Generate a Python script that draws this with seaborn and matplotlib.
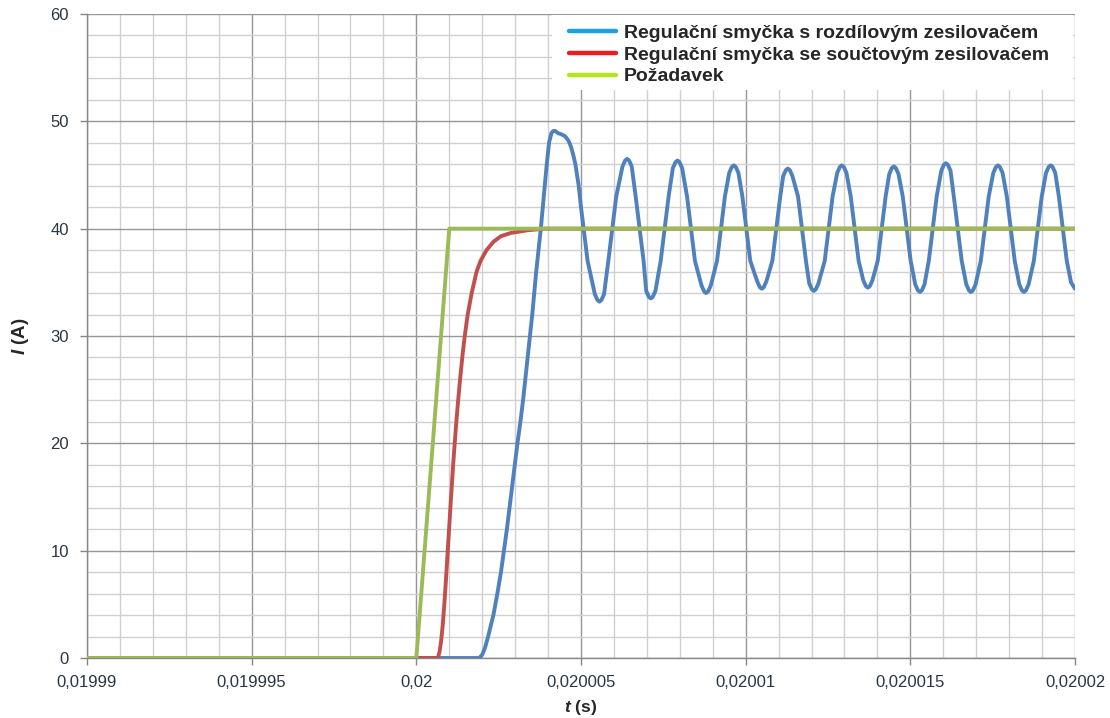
import numpy as np
import pandas as pd
import seaborn as sns
import matplotlib.pyplot as plt
from matplotlib.lines import Line2D
from matplotlib.patches import Rectangle
from matplotlib.ticker import MultipleLocator, FuncFormatter

# ============================================
# DATA (time in microseconds after 0.02 s, current in A)
# ============================================

T0 = 0.02

green_us = [-10, 0.0, 1.0, 20.0]
green_i = [0, 0, 40, 40]

red_us = [-10, 0.65, 0.70, 0.75, 0.80, 0.85, 0.90, 0.95, 1.00, 1.04, 1.08,
          1.12, 1.165, 1.215, 1.27, 1.33, 1.395, 1.47, 1.56, 1.68, 1.83,
          1.95, 2.13, 2.35, 2.57, 2.87, 3.37, 3.90, 20.0]
red_i = [0, 0, 0.5, 1.5, 3.0, 5.0, 7.3, 9.8, 12.3, 14.3, 16.2,
         18.1, 20, 22, 24, 26, 28, 30, 32, 34, 36,
         37, 38, 38.8, 39.3, 39.6, 39.85, 40, 40]

blue_us = [-10, 1.91, 2.00, 2.08, 2.18, 2.34, 2.46, 2.57, 2.66, 2.75, 2.83,
           2.91, 2.99, 3.07, 3.16, 3.24, 3.31, 3.38, 3.45, 3.52, 3.58, 3.64,
           3.71, 3.78, 3.84, 3.90, 3.96, 4.03, 4.10, 4.16, 4.22, 4.30, 4.40,
           4.52, 4.62, 4.70, 4.77, 4.83, 4.93, 5.00, 5.08, 5.20, 5.42, 5.50,
           5.56,
           5.62, 5.70, 5.83, 5.95, 6.07, 6.26, 6.34, 6.40,
           6.46, 6.54, 6.66, 6.78, 6.90, 6.98, 7.06, 7.12,
           7.18, 7.26, 7.42, 7.54, 7.66, 7.79, 7.87, 7.93,
           7.99, 8.07, 8.22, 8.34, 8.46, 8.66, 8.74, 8.80,
           8.86, 8.94, 9.13, 9.25, 9.37, 9.50, 9.58, 9.64,
           9.70, 9.78, 9.90, 10.02, 10.14, 10.35, 10.43, 10.49,
           10.55, 10.63, 10.81, 10.93, 11.05, 11.14, 11.22, 11.28,
           11.34, 11.42, 11.59, 11.71, 11.83, 11.93, 12.01, 12.07,
           12.13, 12.21, 12.40, 12.52, 12.64, 12.78, 12.86, 12.92,
           12.98, 13.06, 13.19, 13.31, 13.43, 13.57, 13.65, 13.71,
           13.77, 13.85, 14.01, 14.13, 14.25, 14.36, 14.44, 14.50,
           14.56, 14.64, 14.77, 14.89, 15.01, 15.15, 15.23, 15.29,
           15.35, 15.43, 15.56, 15.68, 15.80, 15.94, 16.02, 16.08,
           16.14, 16.22, 16.32, 16.44, 16.56, 16.70, 16.78, 16.84,
           16.90, 16.98, 17.14, 17.26, 17.38, 17.52, 17.60, 17.66,
           17.72, 17.80, 17.93, 18.05, 18.17, 18.31, 18.39, 18.45,
           18.51, 18.59, 18.75, 18.87, 18.99, 19.12, 19.20, 19.26,
           19.32, 19.40, 19.51, 19.63, 19.75, 19.88, 20.0]
blue_i = [0, 0, 0.3, 0.9, 2, 4, 6, 8, 10, 12, 14,
          16, 18, 20, 22, 24, 26, 28, 30, 32, 34, 36,
          38, 40, 42, 44, 46, 48, 48.9, 49.1, 49.1, 48.9, 48.8,
          48.6, 48.2, 47.6, 46.8, 46, 44, 42, 40, 37.0, 33.9, 33.35,
          33.2,
          33.35, 33.9, 37.0, 40, 43.0, 45.8, 46.35, 46.5,
          46.35, 45.8, 43.0, 40, 37.0, 34.2, 33.65, 33.5,
          33.65, 34.2, 37.0, 40, 43.0, 45.65, 46.2, 46.35,
          46.2, 45.65, 43.0, 40, 37.0, 34.7, 34.15, 34.0,
          34.15, 34.7, 37.0, 40, 43.0, 45.2, 45.75, 45.9,
          45.75, 45.2, 43.0, 40, 37.0, 35.1, 34.55, 34.4,
          34.55, 35.1, 37.0, 40, 43.0, 44.9, 45.45, 45.6,
          45.45, 44.9, 43.0, 40, 37.0, 34.9, 34.35, 34.2,
          34.35, 34.9, 37.0, 40, 43.0, 45.2, 45.75, 45.9,
          45.75, 45.2, 43.0, 40, 37.0, 35.2, 34.65, 34.5,
          34.65, 35.2, 37.0, 40, 43.0, 45.1, 45.65, 45.8,
          45.65, 45.1, 43.0, 40, 37.0, 34.8, 34.25, 34.1,
          34.25, 34.8, 37.0, 40, 43.0, 45.4, 45.95, 46.1,
          45.95, 45.4, 43.0, 40, 37.0, 34.8, 34.25, 34.1,
          34.25, 34.8, 37.0, 40, 43.0, 45.2, 45.75, 45.9,
          45.75, 45.2, 43.0, 40, 37.0, 34.8, 34.25, 34.1,
          34.25, 34.8, 37.0, 40, 43.0, 45.2, 45.75, 45.9,
          45.75, 45.2, 43.0, 40, 37.0, 35.0, 34.4]

labels = ["Regulační smyčka s rozdílovým zesilovačem",
          "Regulační smyčka se součtovým zesilovačem",
          "Požadavek"]
line_colors = ["#4F81BD", "#C0504D", "#9BBB59"]
legend_colors = ["#1BA1E2", "#ED1C24", "#B5E61D"]


def to_frame(us, vals):
    return pd.DataFrame({"t": T0 + np.array(us) * 1e-6, "I": vals})


# ============================================
# PLOT
# ============================================

sns.set_theme(style="white")
plt.rcParams["font.family"] = ["Liberation Sans", "DejaVu Sans"]
plt.rcParams["mathtext.fontset"] = "custom"
plt.rcParams["mathtext.bfit"] = "Liberation Sans:italic:bold"
plt.rcParams["mathtext.it"] = "Liberation Sans:italic"

fig = plt.figure(figsize=(11.1, 7.18), dpi=100)
ax = fig.add_axes([87 / 1110, 1 - 658 / 718, (1075 - 87) / 1110, (658 - 14) / 718])

series = [(blue_us, blue_i), (red_us, red_i), (green_us, green_i)]
for (us, vals), col in zip(series, line_colors):
    sns.lineplot(data=to_frame(us, vals), x="t", y="I", color=col, lw=2.8,
                 sort=False, estimator=None, ax=ax, zorder=3)

ax.set_xlim(0.01999, 0.02002)
ax.set_ylim(0, 60)
ax.xaxis.set_major_locator(MultipleLocator(5e-6))
ax.xaxis.set_minor_locator(MultipleLocator(1e-6))
ax.yaxis.set_major_locator(MultipleLocator(10))
ax.yaxis.set_minor_locator(MultipleLocator(2))
ax.xaxis.set_major_formatter(
    FuncFormatter(lambda v, p: f"{v:.6f}".rstrip("0").replace(".", ",")))

ax.grid(which="major", color="#969696", lw=1.0)
ax.grid(which="minor", color="#D0D0D0", lw=1.0)
ax.set_axisbelow(True)

for s in ["top", "right"]:
    ax.spines[s].set_visible(False)
for s in ["left", "bottom"]:
    ax.spines[s].set_color("#868686")
    ax.spines[s].set_linewidth(1.0)

ax.tick_params(which="major", direction="out", length=5, width=1,
               color="#868686", labelsize=12, labelcolor="#2B3645",
               left=True, bottom=True)
ax.tick_params(axis="x", pad=7)
ax.tick_params(axis="y", pad=8)
ax.tick_params(which="minor", length=0)

ax.set_xlabel(r"$\mathbfit{t}$ (s)", fontsize=12.5, fontweight="bold", labelpad=6)
ax.set_ylabel(r"$\mathbfit{I}$ (A)", fontsize=13.5, fontweight="bold", labelpad=14)

# white legend area (covers the grid like the original legend box)
ax.add_patch(Rectangle((0.4706, 0.882), 0.527, 0.116, transform=ax.transAxes,
                       facecolor="white", edgecolor="none", zorder=1))

handles = [Line2D([], [], color=c, lw=3.2) for c in legend_colors]
ax.legend(handles, labels, loc="upper left", bbox_to_anchor=(0.4707, 1.010),
          frameon=False, handlelength=2.45, handletextpad=0.4,
          labelspacing=0.22, borderpad=0.35,
          prop={"family": "Liberation Sans", "weight": "bold", "size": 14})

fig.savefig("out.png", dpi=100)
